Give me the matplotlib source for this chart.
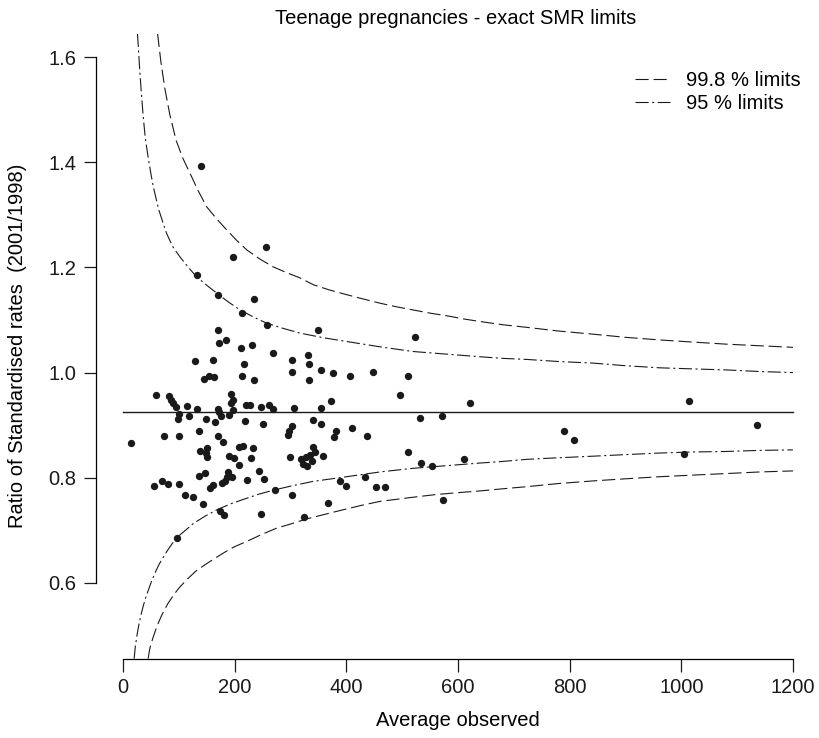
import numpy as np
import matplotlib
matplotlib.use("Agg")
import matplotlib.pyplot as plt

plt.rcParams['font.family'] = ['Liberation Sans', 'DejaVu Sans']
plt.rcParams['lines.scale_dashes'] = False

# observed points (average observed, ratio of standardised rates)
obs_x = [139.2, 255.6, 197.0, 132.0, 170.7, 234.6, 213.7, 257.4, 169.6, 348.7,
         523.5, 171.9, 185.0, 211.9, 231.0, 268.1, 128.4, 161.2, 217.6, 302.7,
         302.7, 145.1, 154.9, 163.3, 212.8, 234.6, 330.8, 332.6, 354.1, 375.6,
         406.0, 447.8, 511.0, 333.7, 372.0, 496.1, 622.0, 306.3, 355.2, 532.5,
         571.3, 59.1, 82.9, 86.0, 89.6, 95.5, 114.6, 133.1, 100.8, 99.2,
         118.7, 147.8, 169.6, 172.3, 175.5, 165.3, 189.8, 197.5, 194.3, 196.7,
         194.3, 220.8, 227.1, 218.0, 247.2, 261.8, 269.0, 250.2, 339.8, 355.2,
         302.7, 296.8, 295.0, 382.4, 378.8, 410.1, 436.5, 14.3, 73.4, 99.8,
         135.6, 170.7, 178.6, 137.9, 150.8, 149.5, 149.9, 207.2, 214.9, 233.7,
         189.7, 199.2, 230.1, 208.3, 299.1, 341.2, 344.2, 334.9, 319.7, 323.3,
         329.0, 338.9, 327.8, 359.1, 510.4, 533.7, 552.9, 611.6, 188.6, 186.3,
         195.8, 183.6, 243.0, 253.4, 222.6, 178.2, 56.4, 70.7, 81.5, 99.9,
         135.6, 147.4, 160.7, 155.8, 111.0, 125.0, 142.9, 272.2, 302.7, 174.6,
         181.2, 247.5, 434.3, 388.3, 399.8, 453.5, 468.7, 368.1, 573.7, 324.7,
         96.2, 789.8, 807.7, 1014.2, 1135.5, 1004.2]
obs_y = [1.393, 1.238, 1.220, 1.186, 1.147, 1.140, 1.114, 1.090, 1.080, 1.080,
         1.068, 1.057, 1.061, 1.047, 1.053, 1.038, 1.022, 1.024, 1.016, 1.023,
         1.002, 0.987, 0.994, 0.992, 0.993, 0.986, 1.033, 1.017, 1.005, 0.999,
         0.994, 1.001, 0.994, 0.985, 0.946, 0.957, 0.943, 0.933, 0.933, 0.913,
         0.917, 0.957, 0.956, 0.947, 0.942, 0.935, 0.937, 0.931, 0.921, 0.912,
         0.918, 0.912, 0.931, 0.925, 0.917, 0.906, 0.920, 0.928, 0.959, 0.947,
         0.943, 0.939, 0.939, 0.908, 0.934, 0.938, 0.931, 0.903, 0.909, 0.903,
         0.898, 0.888, 0.882, 0.888, 0.878, 0.894, 0.879, 0.866, 0.880, 0.880,
         0.889, 0.879, 0.868, 0.850, 0.857, 0.848, 0.839, 0.858, 0.860, 0.857,
         0.841, 0.837, 0.838, 0.824, 0.840, 0.859, 0.849, 0.843, 0.835, 0.827,
         0.823, 0.832, 0.839, 0.842, 0.849, 0.828, 0.822, 0.836, 0.810, 0.802,
         0.801, 0.794, 0.813, 0.797, 0.795, 0.790, 0.785, 0.794, 0.788, 0.789,
         0.804, 0.809, 0.786, 0.781, 0.767, 0.763, 0.750, 0.777, 0.767, 0.737,
         0.729, 0.731, 0.801, 0.794, 0.785, 0.782, 0.782, 0.752, 0.758, 0.726,
         0.686, 0.888, 0.872, 0.946, 0.900, 0.846]

target = 0.9245
target_x = [0, 1200]

# 99.8 % limits (dashed)
up998_x = [62, 68, 75, 84, 95, 107, 120, 135, 150, 168, 186, 204, 222, 245, 269, 293, 317, 341, 370, 401,
           430, 460, 490, 520, 550, 580, 610, 640, 680, 723, 780, 842, 900, 962, 1020, 1081, 1140, 1200]
up998_y = [1.644, 1.59, 1.54, 1.49, 1.442, 1.408, 1.379, 1.345, 1.315, 1.292, 1.271, 1.251, 1.233, 1.216,
           1.201, 1.190, 1.180, 1.167, 1.157, 1.148, 1.140, 1.132, 1.125, 1.119, 1.113, 1.108, 1.102, 1.097,
           1.091, 1.086, 1.079, 1.073, 1.067, 1.062, 1.058, 1.054, 1.051, 1.048]
lo998_x = [45, 48, 52, 56, 60, 65, 70, 75, 80, 90, 100, 115, 130, 146, 162, 180, 198, 213, 228, 250, 275,
           300, 330, 360, 390, 425, 460, 490, 520, 560, 604, 640, 680, 723, 780, 842, 900, 962, 1020, 1081,
           1140, 1200]
lo998_y = [0.456, 0.475, 0.49, 0.503, 0.515, 0.528, 0.54, 0.55, 0.56, 0.576, 0.59, 0.607, 0.622, 0.634,
           0.645, 0.657, 0.668, 0.675, 0.682, 0.693, 0.704, 0.712, 0.722, 0.730, 0.738, 0.747, 0.755, 0.759,
           0.763, 0.768, 0.772, 0.775, 0.779, 0.783, 0.789, 0.794, 0.798, 0.802, 0.805, 0.808, 0.811, 0.813]

# 95 % limits (dash-dot)
up95_x = [26, 28, 30, 33, 36, 40, 45, 50, 54, 59, 64, 71, 78, 84, 90, 96, 102, 117, 132, 150, 168, 189, 210,
          233, 257, 287, 317, 360, 401, 460, 520, 580, 640, 680, 723, 780, 842, 900, 962, 1020, 1081, 1140, 1200]
up95_y = [1.644, 1.61, 1.575, 1.53, 1.49, 1.445, 1.41, 1.378, 1.355, 1.332, 1.31, 1.287, 1.265, 1.251,
          1.238, 1.229, 1.22, 1.2, 1.182, 1.166, 1.151, 1.134, 1.119, 1.106, 1.094, 1.084, 1.075, 1.066,
          1.059, 1.049, 1.040, 1.035, 1.030, 1.027, 1.025, 1.021, 1.018, 1.013, 1.009, 1.007, 1.005, 1.002,
          1.000]
lo95_x = [20, 22, 25, 28, 32, 36, 40, 45, 50, 55, 60, 65, 70, 78, 87, 96, 105, 114, 126, 147, 168, 192, 216,
          244, 272, 300, 340, 401, 460, 520, 580, 640, 680, 723, 780, 842, 900, 962, 1020, 1081, 1140, 1200]
lo95_y = [0.456, 0.478, 0.50, 0.518, 0.538, 0.555, 0.57, 0.585, 0.60, 0.613, 0.625, 0.636, 0.645, 0.659,
          0.673, 0.686, 0.694, 0.702, 0.713, 0.727, 0.739, 0.750, 0.759, 0.769, 0.777, 0.784, 0.793, 0.802,
          0.811, 0.818, 0.823, 0.828, 0.831, 0.835, 0.838, 0.841, 0.844, 0.847, 0.849, 0.850, 0.852, 0.853]

dashed = (0, (9.5, 3.5))
dashdot = (0, (9.5, 2.5, 1.5, 2.5))

fig = plt.figure(figsize=(8.2, 7.38), dpi=100)
ax = fig.add_axes([0.1173, 0.1075, 0.8824, 0.8466])

ax.plot(up998_x, up998_y, color='#1a1a1a', lw=0.8, linestyle=dashed, label='99.8 % limits')
ax.plot(lo998_x, lo998_y, color='#1a1a1a', lw=0.8, linestyle=dashed)
ax.plot(up95_x, up95_y, color='#1a1a1a', lw=0.8, linestyle=dashdot, label='95 % limits')
ax.plot(lo95_x, lo95_y, color='#1a1a1a', lw=0.8, linestyle=dashdot)
ax.plot(target_x, [target, target], color='#1a1a1a', lw=1.0)
ax.scatter(obs_x, obs_y, s=28, color='#1a1a1a', zorder=3, linewidths=0)

ax.set_xlim(-48, 1248)
ax.set_ylim(0.456, 1.644)
for s in ['top', 'right']:
    ax.spines[s].set_visible(False)
ax.spines['left'].set_bounds(0.6, 1.6)
ax.spines['bottom'].set_bounds(0, 1200)
ax.spines['left'].set_linewidth(0.9)
ax.spines['bottom'].set_linewidth(0.9)
ax.set_xticks([0, 200, 400, 600, 800, 1000, 1200])
ax.set_yticks([0.6, 0.8, 1.0, 1.2, 1.4, 1.6])
ax.set_yticklabels(['0.6', '0.8', '1.0', '1.2', '1.4', '1.6'])
ax.tick_params(direction='out', length=9, width=0.9, labelsize=14.5, pad=5, colors='#1a1a1a')

fig.text(0.556, 1 - 18 / 738, 'Teenage pregnancies - exact SMR limits', ha='center', va='center', fontsize=14.5)
fig.text(0.558, 1 - 720 / 738, 'Average observed', ha='center', va='center', fontsize=14.5)
fig.text(18 / 820, 1 - 346 / 738, 'Ratio of Standardised rates  (2001/1998)', ha='center', va='center',
         rotation=90, fontsize=14.5)

ax.legend(loc='upper left', bbox_to_anchor=(0.72, 0.97), frameon=False, fontsize=14.5,
          handlelength=1.7, handletextpad=0.8, labelspacing=0.2)

fig.savefig('out.png', dpi=100)
